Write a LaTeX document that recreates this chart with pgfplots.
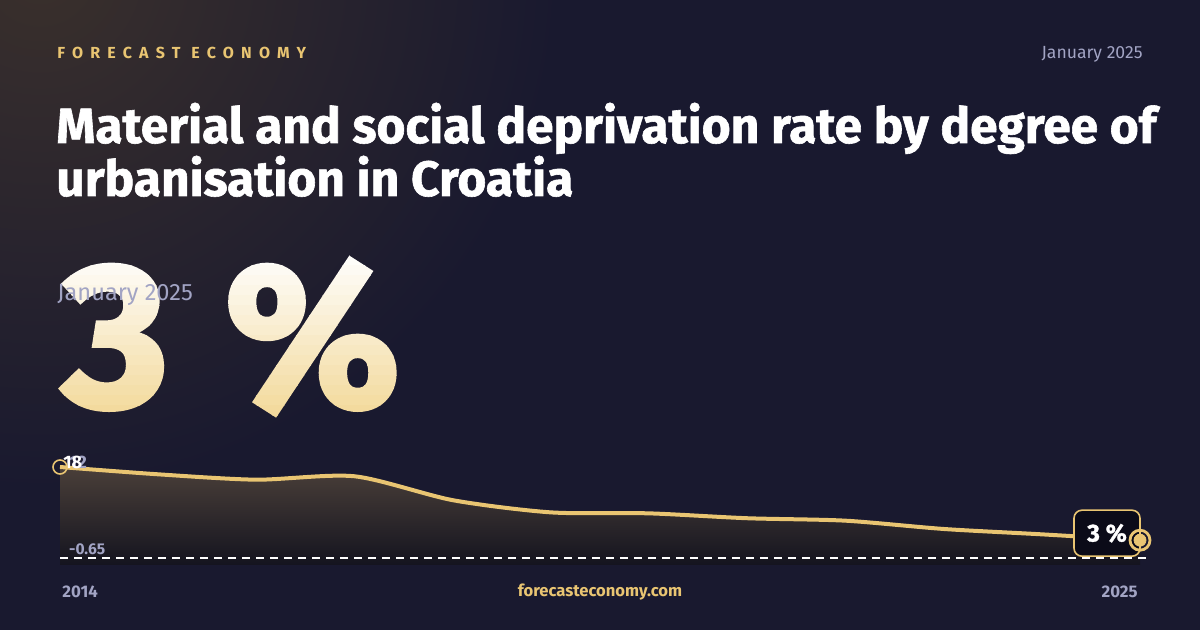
\documentclass[border=0pt]{standalone}
\usepackage{fontspec}
\setmainfont{Fira Sans}
\newfontfamily\spaced[LetterSpace=45]{Fira Sans}
\newfontfamily\heavy[FakeBold=1.2]{Fira Sans}
\newfontfamily\bignumfont[FakeBold=2.5]{Fira Sans}
\usepackage{pgfplots}
\pgfplotsset{compat=1.18}

\definecolor{bgc}{HTML}{19192F}
\definecolor{warm}{HTML}{3A302C}
\definecolor{gold}{HTML}{E9C572}
\definecolor{softgray}{HTML}{A2A4C4}
\definecolor{areatop}{HTML}{4A3F39}
\definecolor{areabot}{HTML}{14141F}
\definecolor{boxbg}{HTML}{0B0B18}
\definecolor{cream}{HTML}{F2D898}

% data: rate in %, Croatia
\pgfplotstableread{
year rate
2014 18.0
2015 16.5
2016 15.4
2017 16.1
2018 11.2
2019 8.7
2020 8.5
2021 7.5
2022 7.0
2023 5.3
2024 4.2
2025 3.0
}\ratetable

\begin{document}
\begin{tikzpicture}[x=0.5pt, y=0.5pt]
  % background
  \fill[bgc] (0,0) rectangle (1200,630);
  \begin{scope}
    \clip (0,0) rectangle (1200,630);
    \shade[inner color=warm, outer color=bgc] (40,660) circle (520);
  \end{scope}

  % header
  \node[anchor=west, inner sep=0pt, text=gold] at (57,577)
    {\spaced\bfseries\fontsize{8}{9}\selectfont FORECAST ECONOMY};
  \node[anchor=east, inner sep=0pt, text=softgray] at (1143,576)
    {\fontsize{8.8}{10}\selectfont January 2025};

  % title
  \node[anchor=base west, inner sep=0pt, text=white] at (56,487)
    {\heavy\bfseries\fontsize{24.8}{28}\selectfont Material and social deprivation rate by degree of};
  \node[anchor=base west, inner sep=0pt, text=white] at (56,434)
    {\heavy\bfseries\fontsize{24.8}{28}\selectfont urbanisation in Croatia};

  % big number, vertical gradient in bands (white at top, cream at bottom)
  \foreach \i in {0,...,17} {
    \pgfmathsetmacro\pc{\i*100/17}
    \begin{scope}
      \clip (0,{384-(\i+1)*10}) rectangle (700,{384-\i*10+0.5});
      \node[anchor=base west, inner sep=0pt, text=cream!\pc!white] at (62,224)
        {\bignumfont\bfseries\fontsize{102}{102}\selectfont 3\hspace{4pt} \%};
    \end{scope}
  }
  \node[anchor=west, inner sep=0pt, text=softgray] at (57,335)
    {\fontsize{11.8}{13}\selectfont January 2025};

  \begin{axis}[
      at={(30pt,32.5pt)}, anchor=south west,
      scale only axis, width=540pt, height=55pt,
      xmin=2014, xmax=2025, ymin=-2.08, ymax=20.46,
      hide axis, clip=false]
    \addplot[draw=none, top color=areatop, bottom color=areabot, smooth, tension=0.45]
      table[x=year, y=rate] {\ratetable}
      -- (axis cs:2025,-2.08) -- (axis cs:2014,-2.08) -- cycle;
    \addplot[gold, line width=2pt, smooth, tension=0.45]
      table[x=year, y=rate] {\ratetable};
    \addplot[white, line width=0.6pt, dash pattern=on 4pt off 3pt]
      coordinates {(2014,-0.65) (2025.1,-0.65)};
    \node[anchor=south west, text=softgray, inner sep=0pt]
      at (axis cs:2014.09,-0.15) {\bfseries\fontsize{7.8}{9}\selectfont -0.65};

    % start point
    \addplot[only marks, mark=o, mark size=3.5pt, gold, line width=0.8pt]
      coordinates {(2014,18.0)};
    \node[anchor=west, text=softgray, inner sep=0pt] at (axis cs:2014.09,19.0)
      {\bfseries\fontsize{9}{10}\selectfont 12};
    \node[anchor=west, text=white, inner sep=0pt] at (axis cs:2014.03,19.0)
      {\bfseries\fontsize{9}{10}\selectfont 18};

    % end point
    \node[draw=gold, line width=0.8pt, fill=boxbg, rounded corners=4pt,
          minimum width=33pt, minimum height=23pt, text=white,
          xshift=-16.5pt, yshift=3.5pt]
      at (axis cs:2025,3.0) {\heavy\bfseries\fontsize{12.3}{14}\selectfont 3 \%};
    \addplot[only marks, mark=o, mark size=5pt, gold, line width=1.4pt,
             mark options={fill=boxbg}]
      coordinates {(2025,3.0)};
    \addplot[only marks, mark=*, mark size=3pt, gold]
      coordinates {(2025,3.0)};
  \end{axis}

  % footer
  \node[anchor=west, inner sep=0pt, text=softgray] at (62,38)
    {\bfseries\fontsize{8.4}{10}\selectfont 2014};
  \node[anchor=east, inner sep=0pt, text=softgray] at (1138,38)
    {\bfseries\fontsize{8.4}{10}\selectfont 2025};
  \node[inner sep=0pt, text=gold] at (600,38)
    {\bfseries\fontsize{8.3}{10}\selectfont forecasteconomy.com};
\end{tikzpicture}
\end{document}
